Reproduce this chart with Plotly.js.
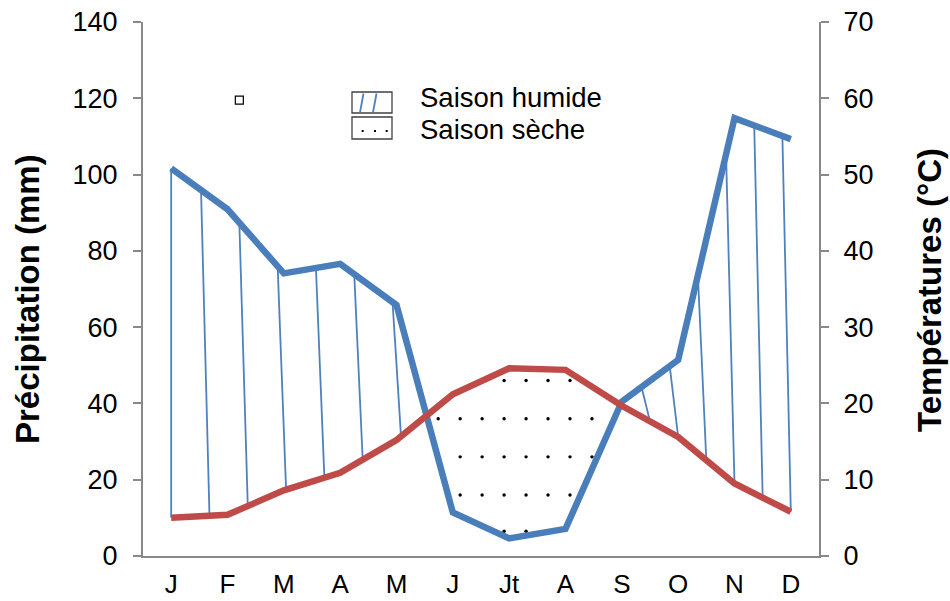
<!DOCTYPE html>
<html>
<head>
<meta charset="utf-8">
<script src="https://cdn.plot.ly/plotly-3.0.1.min.js"></script>
<style>html,body{margin:0;padding:0;background:#fff;}#chart{width:950px;height:601px;}</style>
</head>
<body>
<div id="chart"></div>
<script>
// ---- data ----
const months = ['J','F','M','A','M','J','Jt','A','S','O','N','D'];
const precipitation = [101.6, 90.9, 74.1, 76.6, 65.8, 11.4, 4.6, 7.1, 40.5, 51.4, 114.8, 109.3];
const temperature = [5.0, 5.4, 8.6, 10.9, 15.2, 21.2, 24.6, 24.4, 19.7, 15.6, 9.5, 5.8];
const strayX = [1.21];
const strayY = [119.5];
const legendLabels = ['Saison humide', 'Saison sèche'];

// ---- helpers ----
const idx = months.map((m, i) => i);
function lerp(arr, x) {
  if (x <= 0) return arr[0];
  if (x >= arr.length - 1) return arr[arr.length - 1];
  const i = Math.floor(x), t = x - i;
  return arr[i] + (arr[i + 1] - arr[i]) * t;
}
const P = x => lerp(precipitation, x);
const T2 = x => 2 * lerp(temperature, x);
const humid = x => P(x) - T2(x) > 4;

// hatch lines for the humid season (between precipitation and 2*temperature)
const hx = [], hy = [];
function addHatch(xb) {
  const xt = Math.max(0, xb - 0.15);
  hx.push(xt, xb, null);
  hy.push(P(xt), T2(xb), null);
}
for (let xb = 0; xb <= 11 && humid(xb); xb += 0.68) addHatch(xb);
for (let xb = 11; xb >= 0 && humid(xb); xb -= 0.5) addHatch(xb);

// dots for the dry season
const dx = [], dy = [];
const dotRows = [6.5, 16, 26, 36, 46];
for (const yv of dotRows) {
  for (let x = 4.35; x < 8.2; x += 0.39) {
    if (yv > P(x) + 0.8 && yv < T2(x) - 1.0) { dx.push(x); dy.push(yv); }
  }
}

// pixel -> paper helpers for layout decorations
const L = 143, R = 819, TOP = 22, BOT = 556;
const px = x => (x - L) / (R - L);
const py = y => (BOT - y) / (BOT - TOP);

const FONT = 'Liberation Sans, Arial, sans-serif';
const AXC = '#898989';
const BLUE = '#4A7EBB';
const RED = '#BE4B48';

const traces = [
  {x: hx, y: hy, mode: 'lines', line: {color: '#4F81BD', width: 1.8}, hoverinfo: 'skip', showlegend: false},
  {x: dx, y: dy, mode: 'markers', marker: {color: '#000', size: 3.4}, hoverinfo: 'skip', showlegend: false},
  {x: idx, y: temperature, yaxis: 'y2', mode: 'lines', line: {color: RED, width: 6.5}, name: 'Températures', showlegend: false},
  {x: idx, y: precipitation, mode: 'lines', line: {color: BLUE, width: 6.5}, name: 'Précipitation', showlegend: false},
  {x: strayX, y: strayY, mode: 'markers', marker: {symbol: 'square-open', size: 8, color: '#000', line: {width: 1.2, color: '#000'}}, showlegend: false}
];

const shapes = [
  {type: 'rect', xref: 'paper', yref: 'paper', x0: px(352), x1: px(392), y0: py(113), y1: py(92), line: {color: '#404040', width: 1.3}},
  {type: 'rect', xref: 'paper', yref: 'paper', x0: px(352), x1: px(392), y0: py(139), y1: py(117), line: {color: '#404040', width: 1.3}},
  {type: 'line', xref: 'paper', yref: 'paper', x0: px(360), x1: px(363.5), y0: py(112.5), y1: py(93.5), line: {color: '#4F81BD', width: 1.8}},
  {type: 'line', xref: 'paper', yref: 'paper', x0: px(373), x1: px(376.5), y0: py(112.5), y1: py(93.5), line: {color: '#4F81BD', width: 1.8}}
];
[362.7, 375, 386.7].forEach(cx => shapes.push({type: 'rect', xref: 'paper', yref: 'paper', x0: px(cx - 1), x1: px(cx + 1), y0: py(132), y1: py(130), fillcolor: '#000', line: {width: 0}}));

const layout = {
  width: 950, height: 601,
  margin: {l: L, r: 950 - R, t: TOP, b: 601 - BOT, pad: 0},
  paper_bgcolor: '#fff', plot_bgcolor: '#fff',
  font: {family: FONT, color: '#000', size: 26},
  showlegend: false,
  xaxis: {
    range: [-0.5, 11.5], tickmode: 'array', tickvals: idx, ticktext: months,
    ticks: '', showline: true, linecolor: AXC, linewidth: 2, showgrid: false, zeroline: false,
    tickfont: {size: 26, family: FONT, color: '#000'}, ticklabelstandoff: 4, fixedrange: true
  },
  xaxis2: {
    overlaying: 'x', anchor: 'y', side: 'bottom', range: [-0.5, 11.5],
    tickmode: 'array', tickvals: idx.concat([12]).map(i => i - 0.5),
    ticks: 'outside', ticklen: 7, tickwidth: 2, tickcolor: AXC,
    showticklabels: false, showline: false, showgrid: false, zeroline: false
  },
  yaxis: {
    range: [0, 140], dtick: 20, tick0: 0, ticks: 'outside', ticklen: 8, tickwidth: 2, tickcolor: AXC,
    showline: true, linecolor: AXC, linewidth: 2, showgrid: false, zeroline: false,
    tickfont: {size: 27, family: FONT, color: '#000'}, ticklabelstandoff: 10
  },
  yaxis2: {
    range: [0, 70], dtick: 10, tick0: 0, overlaying: 'y', side: 'right', anchor: 'x',
    ticks: 'outside', ticklen: 8, tickwidth: 2, tickcolor: AXC,
    showline: true, linecolor: AXC, linewidth: 2, showgrid: false, zeroline: false,
    tickfont: {size: 27, family: FONT, color: '#000'}, ticklabelstandoff: 9
  },
  shapes: shapes,
  annotations: [
    {text: 'Précipitation (mm)', xref: 'paper', yref: 'paper', x: px(27), y: py(299), xanchor: 'center', yanchor: 'middle',
     textangle: -90, showarrow: false, font: {family: FONT, size: 33, weight: 'bold', color: '#000'}},
    {text: 'Températures (°C)', xref: 'paper', yref: 'paper', x: px(929), y: py(290), xanchor: 'center', yanchor: 'middle',
     textangle: -90, showarrow: false, font: {family: FONT, size: 33, weight: 'bold', color: '#000'}},
    {text: legendLabels[0], xref: 'paper', yref: 'paper', x: px(418), y: py(97), xanchor: 'left', yanchor: 'middle',
     showarrow: false, font: {family: FONT, size: 27.5, color: '#000'}},
    {text: legendLabels[1], xref: 'paper', yref: 'paper', x: px(418), y: py(129), xanchor: 'left', yanchor: 'middle',
     showarrow: false, font: {family: FONT, size: 27.5, color: '#000'}}
  ]
};

Plotly.newPlot('chart', traces, layout, {displayModeBar: false, staticPlot: true});
</script>
</body>
</html>
